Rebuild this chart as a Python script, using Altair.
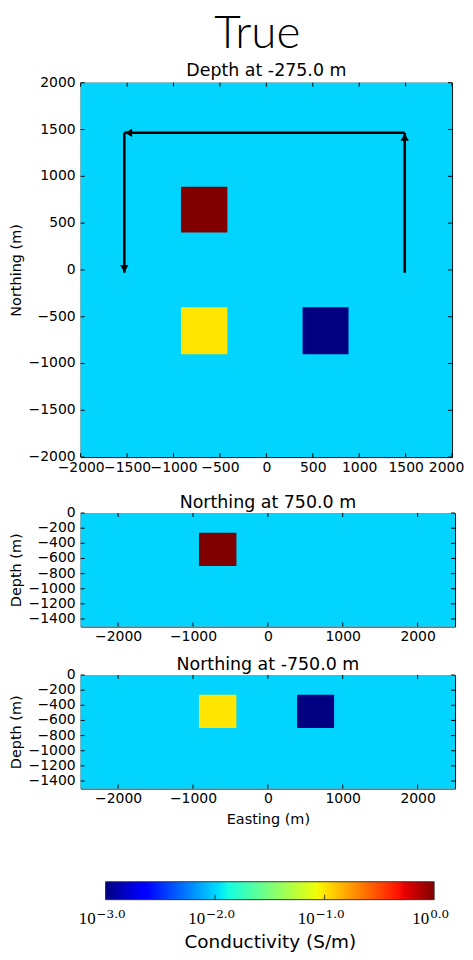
import altair as alt
import pandas as pd

FONT = "DejaVu Sans"

# ---------------- data ----------------
background_sigma = [0.01]

# plan view (depth -275 m) blocks
plan_x0 = [-920, -920, 390]
plan_x1 = [-420, -420, 885]
plan_y0 = [400, -900, -900]
plan_y1 = [890, -400, -400]
plan_sigma = [1.0, 0.1, 0.001]

# section at Northing 750 m
north_x0 = [-920]
north_x1 = [-420]
north_z0 = [-700]
north_z1 = [-260]
north_sigma = [1.0]

# section at Northing -750 m
south_x0 = [-920, 390]
south_x1 = [-420, 885]
south_z0 = [-700, -700]
south_z1 = [-260, -260]
south_sigma = [0.1, 0.001]

# survey path arrows in plan view
line_x0 = [1490, 1490, -1530]
line_y0 = [-30, 1465, 1465]
line_x1 = [1490, -1530, -1530]
line_y1 = [1465, 1465, -30]
head_x = [1490, -1485, -1530]
head_y = [1420, 1465, 15]
head_angle = [0, 270, 180]

plan_extent = [-2000, 2000]
section_x_extent = [-2500, 2500]
section_z_extent = [-1500, 0]

plan_ticks = [-2000, -1500, -1000, -500, 0, 500, 1000, 1500, 2000]
easting_ticks = [-2000, -1000, 0, 1000, 2000]
depth_ticks = [0, -200, -400, -600, -800, -1000, -1200, -1400]

cbar_range = [0.001, 1.0]
cbar_ticks = [0.001, 0.01, 0.1, 1.0]
cbar_exponents = ["\u22123.0", "\u22122.0", "\u22121.0", "0.0"]
cbar_inner_ticks = [0.01, 0.1]

sigma_levels = [0.001, 0.01, 0.1, 1.0]
sigma_colors = ["#000080", "#00D4FF", "#FFE500", "#800000"]

jet_offsets = [0, 0.11, 0.125, 0.34, 0.35, 0.375, 0.64, 0.65, 0.66, 0.89, 0.91, 1.0]
jet_colors = ["#000080", "#0000FF", "#0000FF", "#00DBFF", "#00E6F7", "#15FFE2",
              "#EFFF08", "#F7F500", "#FFEC00", "#FF1300", "#E80000", "#800000"]

# ---------------- chart ----------------
color_scale = alt.Scale(type="log", domain=sigma_levels, range=sigma_colors)


def make_panel(x0, x1, y0, y1, sigma, xdom, ydom, xticks, yticks, w, h,
               title, ytitle, title_offset, xtitle=None, arrows=False, last_shift=0):
    cells = pd.DataFrame({
        "x0": [xdom[0]] + list(x0), "x1": [xdom[1]] + list(x1),
        "y0": [ydom[0]] + list(y0), "y1": [ydom[1]] + list(y1),
        "sigma": background_sigma + list(sigma),
    })
    xs = alt.Scale(domain=xdom, nice=False, zero=False)
    ys = alt.Scale(domain=ydom, nice=False, zero=False)
    xaxis = alt.Axis(values=xticks, format="d", labelOverlap=False, labelFlush=False,
                     ticks=False, domain=False, grid=False, labelPadding=3,
                     labelOffset=alt.condition(f"datum.value == {xticks[-1]}",
                                               alt.value(last_shift), alt.value(0)),
                     labelFont=FONT, labelFontSize=14, labelColor="black",
                     title=xtitle, titleFont=FONT, titleFontSize=14.5,
                     titleFontWeight="normal", titleColor="black", titlePadding=7)
    yaxis = alt.Axis(labels=False, ticks=False, domain=False, grid=False,
                     minExtent=48.5, maxExtent=48.5,
                     title=ytitle, titleFont=FONT, titleFontSize=14.5,
                     titleFontWeight="normal", titleColor="black", titlePadding=8.5)
    rect = alt.Chart(cells).mark_rect().encode(
        x=alt.X("x0:Q", scale=xs, axis=xaxis),
        x2="x1:Q",
        y=alt.Y("y0:Q", scale=ys, axis=yaxis),
        y2="y1:Q",
        color=alt.Color("sigma:Q", scale=color_scale, legend=None),
    )
    xt = pd.DataFrame({"x0": xticks})
    yt = pd.DataFrame({"y0": yticks})
    tb = alt.Chart(xt).mark_rule(color="black", strokeWidth=1).encode(
        x=alt.X("x0:Q", scale=xs), y=alt.value(h), y2=alt.value(h - 4))
    tt = alt.Chart(xt).mark_rule(color="black", strokeWidth=1).encode(
        x=alt.X("x0:Q", scale=xs), y=alt.value(0), y2=alt.value(4))
    tl = alt.Chart(yt).mark_rule(color="black", strokeWidth=1).encode(
        y=alt.Y("y0:Q", scale=ys), x=alt.value(0), x2=alt.value(4))
    tr = alt.Chart(yt).mark_rule(color="black", strokeWidth=1).encode(
        y=alt.Y("y0:Q", scale=ys), x=alt.value(w - 4), x2=alt.value(w))
    ylab = alt.Chart(yt).mark_text(font=FONT, fontSize=14, color="black", align="right",
                                   baseline="middle", dx=-5).encode(
        y=alt.Y("y0:Q", scale=ys), x=alt.value(0), text=alt.Text("y0:Q", format="d"))
    layers = [rect, tb, tt, tl, tr, ylab]
    if arrows:
        ldf = pd.DataFrame({"x0": line_x0, "y0": line_y0, "x1": line_x1, "y1": line_y1})
        hdf = pd.DataFrame({"x0": head_x, "y0": head_y, "angle": head_angle})
        lines = alt.Chart(ldf).mark_rule(color="black", strokeWidth=2.5).encode(
            x=alt.X("x0:Q", scale=xs), y=alt.Y("y0:Q", scale=ys), x2="x1:Q", y2="y1:Q")
        heads = alt.Chart(hdf).mark_point(shape="triangle-up", filled=True, color="black",
                                          opacity=1, size=70).encode(
            x=alt.X("x0:Q", scale=xs), y=alt.Y("y0:Q", scale=ys),
            angle=alt.Angle("angle:Q", scale=None))
        layers += [lines, heads]
    return alt.layer(*layers).properties(
        width=w, height=h,
        title=alt.TitleParams(title, font=FONT, fontSize=17.5, fontWeight="normal",
                              color="black", offset=title_offset, anchor="middle"),
    )


p1 = make_panel(plan_x0, plan_x1, plan_y0, plan_y1, plan_sigma, plan_extent, plan_extent,
                plan_ticks, plan_ticks, 373, 376, "Depth at -275.0 m", "Northing (m)",
                -4.2, arrows=True, last_shift=-6)
p2 = make_panel(north_x0, north_x1, north_z0, north_z1, north_sigma, section_x_extent,
                section_z_extent, easting_ticks, depth_ticks, 376, 114,
                "Northing at 750.0 m", "Depth (m)", -5.3)
p3 = make_panel(south_x0, south_x1, south_z0, south_z1, south_sigma, section_x_extent,
                section_z_extent, easting_ticks, depth_ticks, 376, 114,
                "Northing at -750.0 m", "Depth (m)", -5.3, xtitle="Easting (m)")

# colorbar
cb_scale = alt.Scale(type="log", domain=cbar_range, range=[25, 355])
grad = alt.LinearGradient(
    gradient="linear",
    stops=[alt.GradientStop(color=c, offset=o) for o, c in zip(jet_offsets, jet_colors)],
    x1=0, x2=1, y1=0, y2=0)
bar_df = pd.DataFrame({"v": [cbar_range[0]], "v2": [cbar_range[1]]})
bar = alt.Chart(bar_df).mark_rect(fill=grad, stroke="#333333", strokeWidth=1).encode(
    x=alt.X("v:Q", scale=cb_scale,
            axis=alt.Axis(title="Conductivity (S/m)", labels=False, ticks=False,
                          domain=False, grid=False, minExtent=0, titleFont=FONT,
                          titleFontSize=18.5, titleFontWeight="normal",
                          titleColor="black", titlePadding=33)),
    x2="v2:Q", y=alt.value(0), y2=alt.value(18))
inner_df = pd.DataFrame({"v": cbar_inner_ticks})
inner_ticks = alt.Chart(inner_df).mark_rule(color="#333333", strokeWidth=1).encode(
    x=alt.X("v:Q", scale=cb_scale), y=alt.value(18), y2=alt.value(13))
lab_df = pd.DataFrame({"v": cbar_ticks, "e": cbar_exponents})
base_neg = alt.Chart(lab_df).transform_filter("datum.v < 1").mark_text(
    font="Liberation Serif", fontSize=17, align="right", baseline="alphabetic",
    dx=-10, color="black").encode(x=alt.X("v:Q", scale=cb_scale), y=alt.value(42),
                                  text=alt.value("10"))
exp_neg = alt.Chart(lab_df).transform_filter("datum.v < 1").mark_text(
    font="DejaVu Serif", fontSize=12, align="left", baseline="alphabetic",
    dx=-9, color="black").encode(x=alt.X("v:Q", scale=cb_scale), y=alt.value(36),
                                 text="e:N")
base_pos = alt.Chart(lab_df).transform_filter("datum.v >= 1").mark_text(
    font="Liberation Serif", fontSize=17, align="right", baseline="alphabetic",
    dx=-5, color="black").encode(x=alt.X("v:Q", scale=cb_scale), y=alt.value(42),
                                 text=alt.value("10"))
exp_pos = alt.Chart(lab_df).transform_filter("datum.v >= 1").mark_text(
    font="DejaVu Serif", fontSize=12, align="left", baseline="alphabetic",
    dx=-4, color="black").encode(x=alt.X("v:Q", scale=cb_scale), y=alt.value(36),
                                 text="e:N")
cbar = alt.layer(bar, inner_ticks, base_neg, exp_neg, base_pos, exp_pos).properties(
    width=376, height=18, view=alt.ViewBackground(stroke="transparent"))

inner = alt.vconcat(p2, p3, spacing=10.7)
upper = alt.vconcat(p1, inner, spacing=18.2)
chart = alt.vconcat(upper, cbar, spacing=54.5).properties(
    padding=0,
    title=alt.TitleParams("True", font="Lato", fontSize=46, fontWeight=300, color="black",
                          anchor="middle", dx=21, offset=4.5),
).configure_view(stroke="black", strokeWidth=1)

chart.save("out.html", embed_options={"renderer": "svg", "actions": False})
